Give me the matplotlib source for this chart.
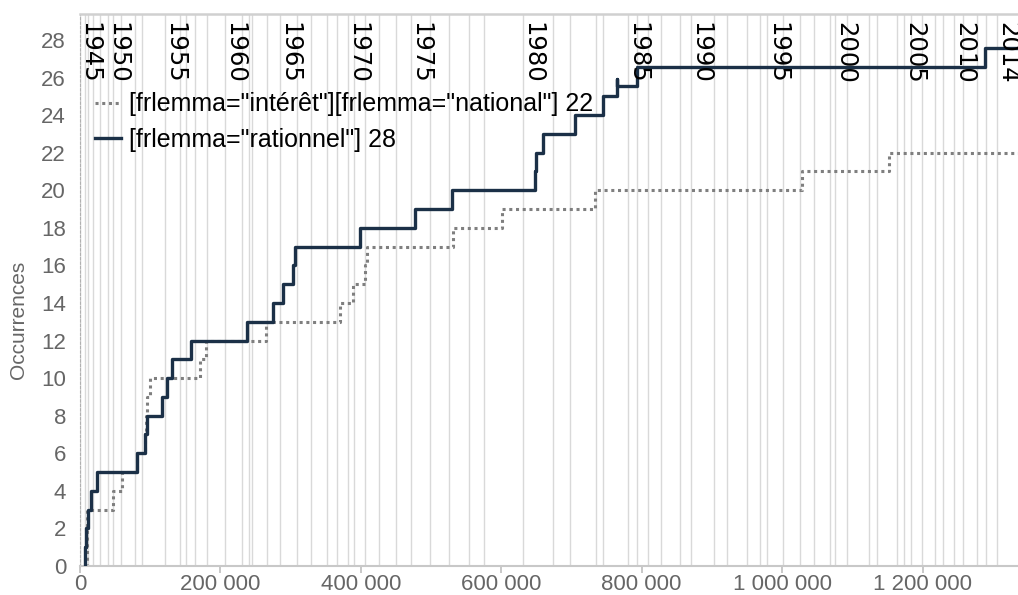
import matplotlib
matplotlib.use("Agg")
import matplotlib.pyplot as plt
import matplotlib.transforms as mtransforms
from matplotlib.ticker import FuncFormatter, MultipleLocator

# ---- data ----
years = list(range(1945, 2015))
year_starts = [0, 7100, 11400, 18100, 28500, 39500, 47000, 58800, 78800, 88700,
               121100, 142000, 151400, 163800, 181300, 206100, 231200, 241200, 245400, 266400,
               285300, 308700, 328600, 352300, 366100, 381300, 390700, 405600, 426400, 449700,
               471100, 498100, 526100, 554600, 575900, 630600, 673800, 698000, 734600, 745400,
               780200, 793000, 809100, 827200, 855100, 869900, 902700, 921200, 950600, 968200,
               979100, 1001900, 1025200, 1046000, 1068000, 1075900, 1092200, 1123900, 1135300, 1163800,
               1174200, 1183800, 1199000, 1218400, 1229800, 1245400, 1257500, 1277800, 1290200, 1306700]
labeled_years = [1945, 1950, 1955, 1960, 1965, 1970, 1975, 1980, 1985, 1990, 1995, 2000, 2005, 2010, 2014]
corpus_end = 1336000

interet_x = [9000, 9500, 10000, 10500, 47400, 59400, 80800, 92600, 94000, 95900, 99700,
             170900, 179100, 265000, 370400, 389300, 406000, 408400, 531800, 600700,
             733600, 1028100, 1152800, corpus_end]
interet_y = [0, 1, 2, 3, 4, 5, 6, 7, 8, 9, 10, 11, 12, 13, 14, 15, 16, 17, 18, 19,
             20, 21, 22, 22]

rationnel_x = [7000, 7100, 8100, 11000, 15200, 24600, 81600, 92600, 95900, 117200, 123500,
               131500, 157700, 237500, 274500, 288700, 303800, 306300, 398900, 477200,
               529500, 647400, 648900, 659100, 705100, 745400, 764800, 765300, 793400,
               1289200, corpus_end]
rationnel_y = [0, 1, 2, 3, 4, 5, 6, 7, 8, 9, 10, 11, 12, 13, 14, 15, 16, 17, 18, 19,
               20, 21, 22, 23, 24, 25, 25.9, 25.55, 26.55, 27.55, 27.55]

labels = ['[frlemma="intérêt"][frlemma="national"] 22', '[frlemma="rationnel"] 28']

# ---- figure ----
fig = plt.figure(figsize=(10.18, 5.95), dpi=100)
ax = fig.add_axes([80/1018, 1 - 566/595, (1018-80)/1018, (566-14)/595])

ax.vlines(year_starts, 0, 1, transform=ax.get_xaxis_transform(),
          color='#d9d9d9', lw=1.0, zorder=0)

ax.step(interet_x, interet_y, where='post', color='#7f7f7f', lw=2.2,
        linestyle=(0, (1, 1.2)), label=labels[0], zorder=2)
ax.step(rationnel_x, rationnel_y, where='post', color='#1b3047', lw=2.4,
        label=labels[1], zorder=3)

ax.set_xlim(0, corpus_end)
ax.set_ylim(0, 29.38)
ax.yaxis.set_major_locator(MultipleLocator(2))
ax.xaxis.set_major_locator(MultipleLocator(200000))
ax.xaxis.set_major_formatter(FuncFormatter(lambda v, p: f"{int(v):,}".replace(",", " ")))

for lab in ax.get_xticklabels() + ax.get_yticklabels():
    lab.set_fontfamily('Liberation Sans')
    lab.set_fontsize(16)
    lab.set_color('#666666')
ax.tick_params(axis='y', length=0, pad=10)
ax.tick_params(axis='x', length=5, color='#bfbfbf', width=1.2, pad=1)

ax.set_ylabel('Occurrences', fontfamily='Liberation Sans', fontsize=15,
              color='#666666')
ax.yaxis.set_label_coords(-0.055, 0.446)

ax.spines['right'].set_visible(False)
ax.spines['top'].set_color('#d0d0d0')
ax.spines['top'].set_linewidth(1.8)
ax.spines['bottom'].set_color('#c8c8c8')
ax.spines['bottom'].set_linewidth(1.5)
ax.spines['left'].set_color('#b0b0b0')
ax.spines['left'].set_linewidth(0.8)
ax.spines['left'].set_linestyle((0, (2, 2)))

# year labels
trans = mtransforms.offset_copy(ax.get_xaxis_transform(), fig=fig, x=-2.5, y=0, units='dots')
for yr in labeled_years:
    xpos = year_starts[years.index(yr)]
    ax.text(xpos, 0.986, str(yr), rotation=270, ha='left', va='top',
            fontsize=17.5, fontfamily='DejaVu Sans', color='black', transform=trans,
            zorder=4)

leg = ax.legend(loc='upper left', bbox_to_anchor=(0.016, 0.858), frameon=False,
                borderaxespad=0, borderpad=0, handlelength=1.05, handletextpad=0.3,
                labelspacing=0.45, prop={'family': 'Liberation Sans', 'size': 18})

fig.savefig('out.png', dpi=100)
